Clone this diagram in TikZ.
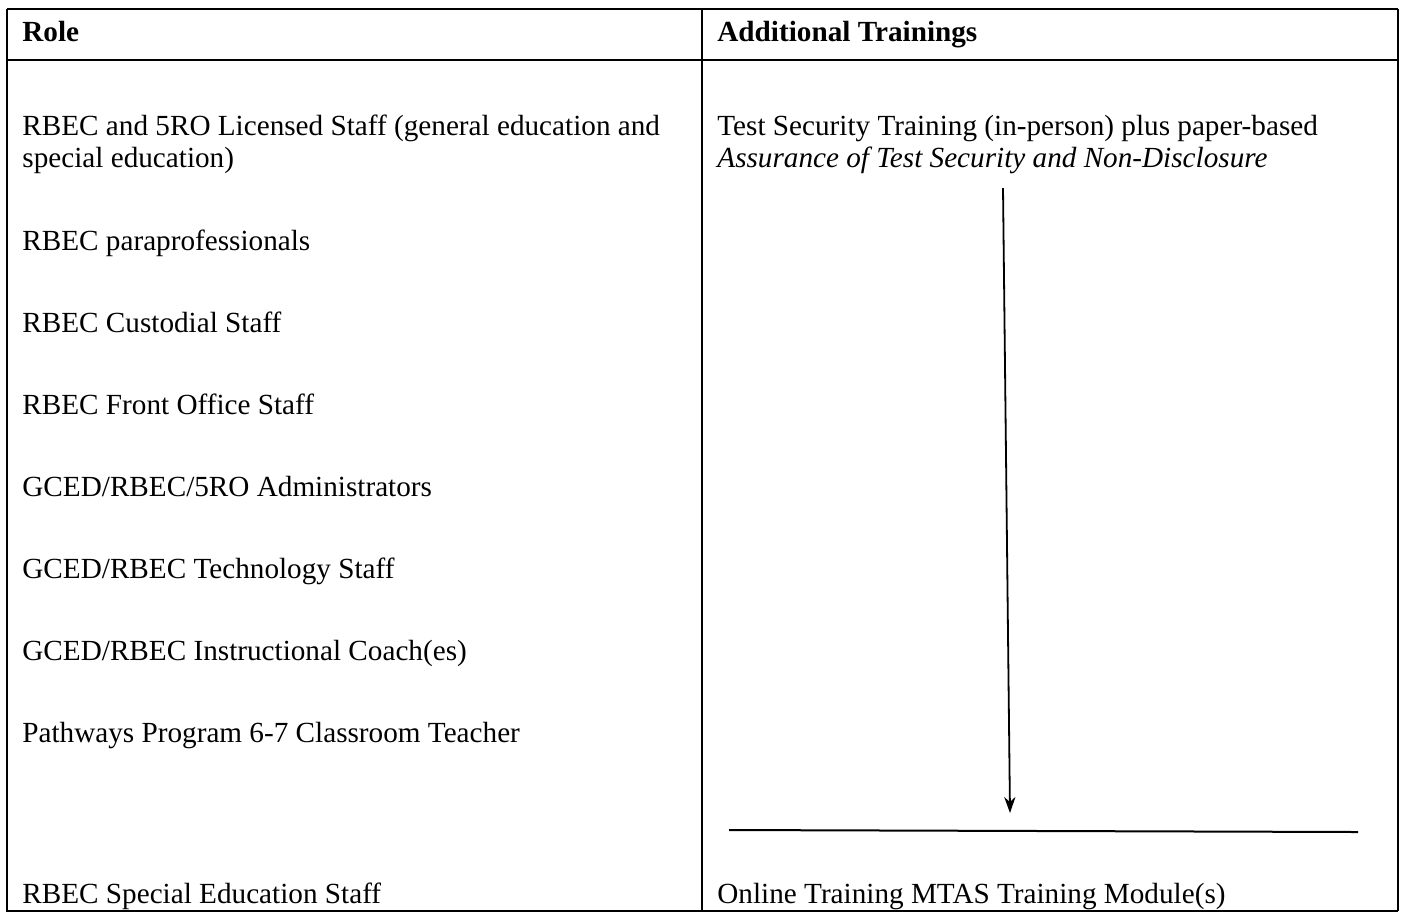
\documentclass[tikz,border=0pt]{standalone}
\usepackage{fontspec}
\setmainfont{Liberation Serif}
\usetikzlibrary{arrows.meta,positioning}
\tikzset{
    %Define standard arrow tip
    >={Stealth[length=8pt,width=5.6pt,inset=2.5pt]},
    %Define style for table text
    cellnode/.style={
             anchor=base west,
             inner sep=0pt,
             font=\fontsize{14.6}{16}\selectfont},
    headnode/.style={
             cellnode,
             font=\fontsize{14.6}{16}\selectfont\bfseries},
    % Define rule styles
    tablerule/.style={
            line width=0.8pt},
    outerrule/.style={
            line width=1.4pt},
    % Define arrow style
    flowarrow/.style={
            ->,
            line width=0.9pt},
    splitrule/.style={
            line width=1pt}
}
\begin{document}
\begin{tikzpicture}[x=0.5pt, y=-0.5pt]
 \useasboundingbox (0,0) rectangle (1401,912);
 % table rules
 \draw[outerrule] (7,9) -- (1398,9);
 \draw[outerrule] (1398,9) -- (1398,911);
 \draw[tablerule] (7,9) -- (7,911) -- (1398,911);
 \draw[tablerule] (7,60) -- (1398,60);
 \draw[tablerule] (702,9) -- (702,911);
 % header
 \node[headnode] (role) at (22,41) {Role};
 \node[headnode] (trainings) at (717,41) {Additional Trainings};
 % roles
 \node[cellnode] (licensed) at (22,135) {RBEC and 5RO Licensed Staff (general education and};
 \node[cellnode] (licensed2) at (22,167) {special education)};
 \node[cellnode] (para) at (22,250) {RBEC paraprofessionals};
 \node[cellnode] (custodial) at (22,332) {RBEC Custodial Staff};
 \node[cellnode] (office) at (22,414) {RBEC Front Office Staff};
 \node[cellnode] (admin) at (22,496) {GCED/RBEC/5RO Administrators};
 \node[cellnode] (tech) at (22,578) {GCED/RBEC Technology Staff};
 \node[cellnode] (coach) at (22,660) {GCED/RBEC Instructional Coach(es)};
 \node[cellnode] (pathways) at (22,742) {Pathways Program 6-7 Classroom Teacher};
 \node[cellnode] (sped) at (22,903) {RBEC Special Education Staff};
 % trainings
 \node[cellnode] (security) at (717,135) {Test Security Training (in-person) plus paper-based};
 \node[cellnode] (assurance) at (717,167) {\itshape Assurance of Test Security and Non-Disclosure};
 \node[cellnode] (online) at (717,903) {Online Training MTAS Training Module(s)};
 % arrow and split line
 \coordinate (arrtop) at (1003,188);
 \coordinate (arrtip) at (1010,813);
 \coordinate (splitL) at (729,830);
 \coordinate (splitR) at (1358,832);
 \draw[flowarrow] (arrtop) -- (arrtip);
 \draw[splitrule] (splitL) -- (splitR);
\end{tikzpicture}
\end{document}
